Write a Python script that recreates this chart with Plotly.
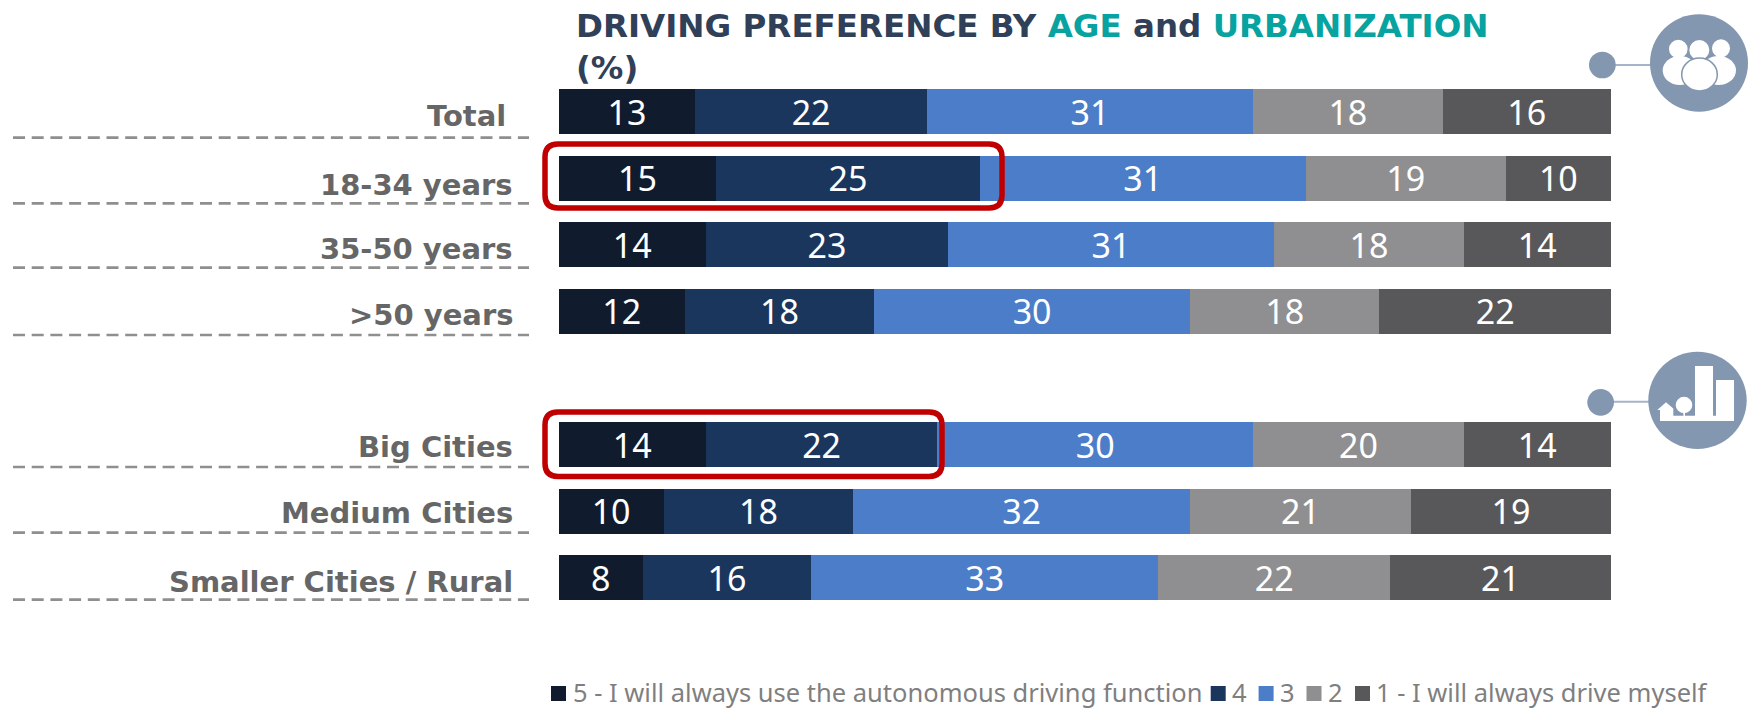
import plotly.graph_objects as go

W, H = 1748, 709

categories = ["Total", "18-34 years", "35-50 years", ">50 years", " ",
              "Big Cities", "Medium Cities", "Smaller Cities / Rural"]
series_names = ["5 - I will always use the autonomous driving function", "4", "3", "2",
                "1 - I will always drive myself"]
s5 = [13, 15, 14, 12, None, 14, 10, 8]
s4 = [22, 25, 23, 18, None, 22, 18, 16]
s3 = [31, 31, 31, 30, None, 30, 32, 33]
s2 = [18, 19, 18, 18, None, 20, 21, 22]
s1 = [16, 10, 14, 22, None, 14, 19, 21]
colors = ["#101c2e", "#1b365d", "#4c7dc9", "#8f8f91", "#58585a"]

LABEL_FONT = "DejaVu Sans"
TEXT_FONT = "Noto Sans"
VALUE_FONT = "Noto Sans"
ICON = "#8497b0"
ICON_LINE = "#a5b4c8"

px = lambda x: x / W
py = lambda y: 1 - y / H

fig = go.Figure()
for name, vals, col in zip(series_names, [s5, s4, s3, s2, s1], colors):
    fig.add_bar(
        y=categories, x=vals, name=name, orientation="h", width=0.676,
        marker=dict(color=col, line=dict(width=0)),
        text=vals, textposition="inside", insidetextanchor="middle", textangle=0,
        constraintext="none",
        textfont=dict(family=VALUE_FONT, size=34, color="white"),
        cliponaxis=False, showlegend=False,
    )

shapes = []
annotations = []


def rect(x0, y0, x1, y1, fill):
    shapes.append(dict(type="rect", xref="paper", yref="paper", x0=px(x0), x1=px(x1),
                       y0=py(y0), y1=py(y1), fillcolor=fill, line=dict(width=0), layer="above"))


def ell(x0, y0, x1, y1, fill, line=None):
    shapes.append(dict(type="circle", xref="paper", yref="paper", x0=px(x0), x1=px(x1),
                       y0=py(y0), y1=py(y1), fillcolor=fill, layer="above",
                       line=dict(width=1.5, color=line) if line else dict(width=0)))


def seg(x0, y0, x1, y1, color, width, dash="solid"):
    shapes.append(dict(type="line", xref="paper", yref="paper", x0=px(x0), x1=px(x1),
                       y0=py(y0), y1=py(y1), line=dict(color=color, width=width, dash=dash),
                       layer="above"))


def poly(pts, fill):
    d = "M " + " L ".join(f"{px(x):.5f},{py(y):.5f}" for x, y in pts) + " Z"
    shapes.append(dict(type="path", xref="paper", yref="paper", path=d, fillcolor=fill,
                       line=dict(width=0), layer="above"))


def round_box(x0, y0, x1, y1, r, color, width):
    p = lambda x, y: f"{px(x):.5f},{py(y):.5f}"
    d = (f"M {p(x0 + r, y0)} L {p(x1 - r, y0)} Q {p(x1, y0)} {p(x1, y0 + r)} "
         f"L {p(x1, y1 - r)} Q {p(x1, y1)} {p(x1 - r, y1)} L {p(x0 + r, y1)} "
         f"Q {p(x0, y1)} {p(x0, y1 - r)} L {p(x0, y0 + r)} Q {p(x0, y0)} {p(x0 + r, y0)} Z")
    shapes.append(dict(type="path", xref="paper", yref="paper", path=d,
                       line=dict(color=color, width=width), layer="above"))


# Category labels and dashed rules
label_right = [508, 515, 515, 515, None, 515, 515, 515]
label_y = [116, 185, 248.5, 315, None, 446.5, 513, 582]
rule_y = [137.7, 203.3, 267.7, 335, None, 467, 532.7, 599.7]
for cat, xr, ly, ry in zip(categories, label_right, label_y, rule_y):
    if xr is None:
        continue
    annotations.append(dict(text=cat, xref="paper", yref="paper", x=px(xr), y=py(ly),
                            xanchor="right", yanchor="middle", showarrow=False,
                            font=dict(family=LABEL_FONT, size=29, color="#666666", weight="bold")))
    seg(13, ry, 529, ry, "#8f8f8f", 2.7, "12px,6.7px")

# Highlight boxes
round_box(545, 144, 1002, 208, 13, "#c00000", 5.5)
round_box(545, 412, 942, 476.5, 13, "#c00000", 5.5)

# People icon
seg(1615, 65, 1652, 65, ICON_LINE, 2)
ell(1589, 51.7, 1615.7, 78.3, ICON)
ell(1650, 14.3, 1748, 111.7, ICON)
ell(1669, 39.7, 1687.6, 58.3, "white")
ell(1712, 39.3, 1730, 57.3, "white")
ell(1689.3, 40, 1709.3, 60, "white")
ell(1662.7, 56, 1697, 85, "white")
ell(1701, 56, 1736, 85, "white")
ell(1681.7, 58, 1717.3, 91, "white", ICON)

# City icon
seg(1612, 401.7, 1650, 401.7, ICON_LINE, 2)
ell(1587.3, 389, 1614, 415.7, ICON)
ell(1648.3, 351.7, 1746.7, 449, ICON)
rect(1660, 415.7, 1734, 421, "white")
rect(1695, 366, 1713, 416, "white")
rect(1716, 380, 1734, 416, "white")
poly([(1666, 402.3), (1657.3, 410), (1660, 410), (1660, 416), (1673.3, 416), (1673.3, 408.5)], "white")
ell(1675.7, 396.7, 1692.3, 413.3, "white")
rect(1683.4, 411, 1685, 416, "white")

# Legend
legend_sw = [551, 1210.7, 1258.6, 1306.5, 1355]
legend_tx = [572.5, 1232, 1280, 1328, 1376]
for name, col, sx, tx in zip(series_names, colors, legend_sw, legend_tx):
    rect(sx, 686, sx + 15, 701, col)
    annotations.append(dict(text=name, xref="paper", yref="paper", x=px(tx), y=py(692),
                            xanchor="left", yanchor="middle", showarrow=False, xshift=-2,
                            font=dict(family=TEXT_FONT, size=25.5, color="#7f7f7f")))

fig.update_layout(
    width=W, height=H, margin=dict(l=0, r=0, t=0, b=0), autosize=False,
    paper_bgcolor="white", plot_bgcolor="white", barmode="stack", bargap=0.324,
    title=dict(
        text="DRIVING PREFERENCE BY <span style='color:#07a3a0'>AGE</span> and "
             "<span style='color:#07a3a0'>URBANIZATION</span><br>(%)",
        x=px(576), xanchor="left", xref="paper", y=py(37), yanchor="top", yref="paper",
        font=dict(family=LABEL_FONT, size=32.5, color="#2f4058", weight="bold"),
    ),
    xaxis=dict(domain=[px(558.5), px(1611)], range=[0, 100], visible=False),
    yaxis=dict(domain=[0, 1], type="category", categoryorder="array", categoryarray=categories,
               range=[8.973, -1.68], visible=False),
    shapes=shapes, annotations=annotations, showlegend=False,
)

fig.write_html("out.html", config={"displayModeBar": False},
               post_script="document.body.style.margin='0';")
